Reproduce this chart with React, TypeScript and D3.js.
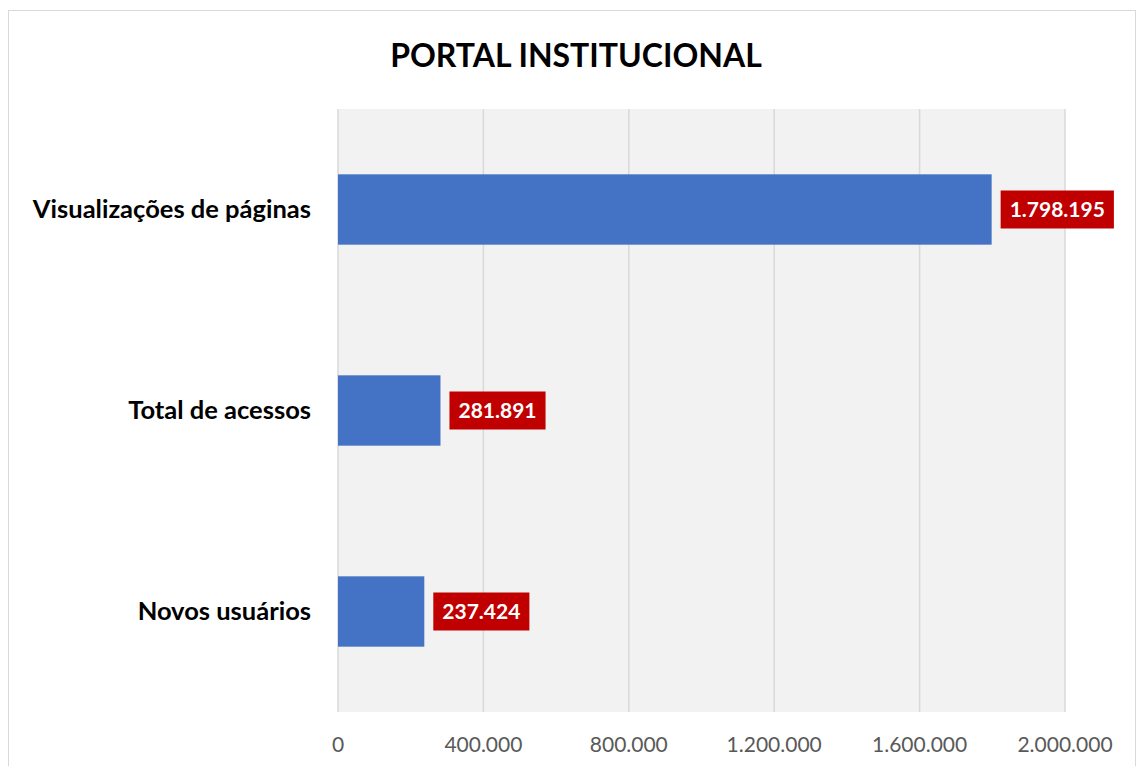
import React, { useEffect, useRef } from 'react';
import * as d3 from 'd3';

const categories = ['Visualizações de páginas', 'Total de acessos', 'Novos usuários'];
const values = [1798195, 281891, 237424];
const ticks = [0, 400000, 800000, 1200000, 1600000, 2000000];

const W = 1138;
const H = 766;
const FONT = 'Lato, "Noto Sans", sans-serif';

const fmt = (v: number) => d3.format(',')(v).replace(/,/g, '.');

const App = () => {
  const ref = useRef<SVGSVGElement>(null);

  useEffect(() => {
    const svg = d3.select(ref.current);
    svg.selectAll('*').remove();

    const left = 338, right = 1065, top = 109, bottom = 712;

    svg.append('rect')
      .attr('x', 8.5).attr('y', 10.5)
      .attr('width', W - 11).attr('height', H)
      .attr('fill', '#fff').attr('stroke', '#d9d9d9');

    svg.append('text')
      .attr('x', 576).attr('y', 67)
      .attr('text-anchor', 'middle')
      .attr('font-family', FONT).attr('font-weight', 'bold')
      .attr('font-size', 32).attr('fill', '#000')
      .text('PORTAL INSTITUCIONAL');

    const x = d3.scaleLinear().domain([0, 2000000]).range([left, right]);
    const y = d3.scaleBand().domain(categories).range([top, bottom]).paddingInner(0.65).paddingOuter(0.325);

    svg.append('rect')
      .attr('x', left).attr('y', top)
      .attr('width', right - left).attr('height', bottom - top)
      .attr('fill', '#f2f2f2');

    svg.append('g').selectAll('line').data(ticks).enter().append('line')
      .attr('x1', d => x(d)).attr('x2', d => x(d))
      .attr('y1', top).attr('y2', bottom)
      .attr('stroke', '#d9d9d9').attr('stroke-width', 1.5);

    svg.append('g').selectAll('text').data(ticks).enter().append('text')
      .attr('x', d => x(d)).attr('y', 752)
      .attr('text-anchor', 'middle')
      .attr('font-family', FONT).attr('font-size', 21).attr('fill', '#595959')
      .text(d => fmt(d));

    svg.append('g').selectAll('rect').data(values).enter().append('rect')
      .attr('x', x(0))
      .attr('y', (d, i) => y(categories[i])!)
      .attr('width', d => x(d) - x(0))
      .attr('height', y.bandwidth())
      .attr('fill', '#4472c4');

    svg.append('g').selectAll('text').data(categories).enter().append('text')
      .attr('x', 311).attr('y', d => y(d)! + y.bandwidth() / 2)
      .attr('dy', '0.35em')
      .attr('text-anchor', 'end')
      .attr('font-family', FONT).attr('font-weight', 'bold')
      .attr('font-size', 25.5).attr('fill', '#000')
      .text(d => d);

    const labels = svg.append('g').selectAll('g').data(values).enter().append('g');
    labels.each(function (d, i) {
      const g = d3.select(this);
      const cy = y(categories[i])! + y.bandwidth() / 2;
      const bx = x(d) + 9;
      const t = g.append('text')
        .attr('y', cy).attr('dy', '0.35em')
        .attr('text-anchor', 'middle')
        .attr('font-family', FONT).attr('font-weight', 'bold')
        .attr('font-size', 21).attr('fill', '#fff')
        .text(fmt(d));
      const tw = (t.node() as SVGTextElement).getComputedTextLength();
      const bw = tw + 18;
      g.insert('rect', 'text')
        .attr('x', bx).attr('y', cy - 19)
        .attr('width', bw).attr('height', 38)
        .attr('fill', '#c00000');
      t.attr('x', bx + bw / 2);
    });
  }, []);

  return (
    <svg ref={ref} width={W} height={H}
      style={{ position: 'absolute', left: 0, top: 0, display: 'block' }} />
  );
};

export default App;
